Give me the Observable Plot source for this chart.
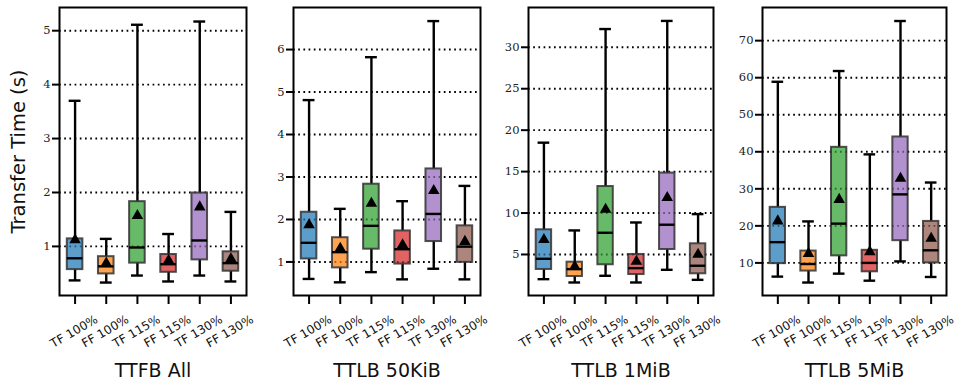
<!DOCTYPE html>
<html><head><meta charset="utf-8">
<script src="https://cdn.jsdelivr.net/npm/d3@7"></script>
<script src="https://cdn.jsdelivr.net/npm/@observablehq/plot@0.6"></script>
<style>
body{margin:0;background:#fff}
#c{position:relative;width:969px;height:388px;overflow:hidden}
#c svg{position:absolute;top:0}
</style>
</head><body><div id="c"></div>
<script>
const categories = ["TF 100%","FF 100%","TF 115%","FF 115%","TF 130%","FF 130%"];
const colors = ["#1f77b4","#ff7f0e","#2ca02c","#d62728","#9467bd","#8c564b"];
const panelTitles = ["TTFB All","TTLB 50KiB","TTLB 1MiB","TTLB 5MiB"];
const yLabel = "Transfer Time (s)";

// TTFB All
const ttfbAllLo   = [0.37,0.33,0.46,0.35,0.46,0.35];
const ttfbAllQ1   = [0.57,0.49,0.69,0.52,0.75,0.54];
const ttfbAllMed  = [0.78,0.63,0.98,0.67,1.11,0.69];
const ttfbAllQ3   = [1.14,0.81,1.83,0.85,1.99,0.90];
const ttfbAllHi   = [3.70,1.14,5.11,1.23,5.17,1.64];
const ttfbAllMean = [1.12,0.69,1.57,0.74,1.73,0.77];
const ttfbAllTicks = [1,2,3,4,5];

// TTLB 50KiB
const ttlb50Lo   = [0.60,0.52,0.76,0.59,0.84,0.59];
const ttlb50Q1   = [1.07,0.86,1.30,0.95,1.48,0.99];
const ttlb50Med  = [1.45,1.23,1.85,1.30,2.13,1.36];
const ttlb50Q3   = [2.17,1.57,2.83,1.73,3.19,1.85];
const ttlb50Hi   = [4.81,2.25,5.82,2.43,6.67,2.79];
const ttlb50Mean = [1.87,1.32,2.38,1.40,2.68,1.48];
const ttlb50Ticks = [1,2,3,4,5,6];

// TTLB 1MiB
const ttlb1mLo   = [2.02,1.62,2.43,1.62,3.15,1.94];
const ttlb1mQ1   = [3.19,2.34,3.76,2.58,5.60,2.67];
const ttlb1mMed  = [4.48,3.23,7.62,3.35,8.59,3.64];
const ttlb1mQ3   = [7.98,4.07,13.2,5.00,14.82,6.29];
const ttlb1mHi   = [18.49,7.90,32.2,8.86,33.18,9.87];
const ttlb1mMean = [6.78,3.55,10.43,4.15,11.85,5.00];
const ttlb1mTicks = [5,10,15,20,25,30];

// TTLB 5MiB
const ttlb5mLo   = [6.3,4.7,7.1,5.2,10.4,6.2];
const ttlb5mQ1   = [9.8,7.8,11.9,7.6,16.0,10.0];
const ttlb5mMed  = [15.6,9.7,20.6,10.0,28.5,13.4];
const ttlb5mQ3   = [25.0,13.2,41.2,13.4,44.0,21.2];
const ttlb5mHi   = [58.9,21.2,61.8,39.3,75.3,31.7];
const ttlb5mMean = [21.3,12.5,27.1,13.0,32.8,16.6];
const ttlb5mTicks = [10,20,30,40,50,60,70];

const panels = [
  {lo: ttfbAllLo, q1: ttfbAllQ1, med: ttfbAllMed, q3: ttfbAllQ3, hi: ttfbAllHi, mean: ttfbAllMean, ticks: ttfbAllTicks, domain:[0.09,5.43], left:59, right:246},
  {lo: ttlb50Lo, q1: ttlb50Q1, med: ttlb50Med, q3: ttlb50Q3, hi: ttlb50Hi, mean: ttlb50Mean, ticks: ttlb50Ticks, domain:[0.21,6.99], left:293, right:480},
  {lo: ttlb1mLo, q1: ttlb1mQ1, med: ttlb1mMed, q3: ttlb1mQ3, hi: ttlb1mHi, mean: ttlb1mMean, ticks: ttlb1mTicks, domain:[0.05,34.8], left:528, right:713},
  {lo: ttlb5mLo, q1: ttlb5mQ1, med: ttlb5mMed, q3: ttlb5mQ3, hi: ttlb5mHi, mean: ttlb5mMean, ticks: ttlb5mTicks, domain:[1.2,78.95], left:762, right:946}
];

const container = document.getElementById("c");
const ML = 59, MR = 14, MT = 7, MB = 93;
const sans = "DejaVu Sans";
const serif = "DejaVu Serif";

panels.forEach((p, k) => {
  const rows = categories.map((c, i) => ({
    x: i + 1, c, color: colors[i],
    lo: p.lo[i], q1: p.q1[i], med: p.med[i], q3: p.q3[i], hi: p.hi[i], mean: p.mean[i]
  }));
  const hw = 0.25, cw = 0.19;
  const marks = [
    Plot.gridY(p.ticks, {stroke: "black", strokeOpacity: 1, strokeWidth: 1.9, strokeDasharray: "1.7,3.5"}),
    Plot.ruleX(rows, {x: "x", y1: "lo", y2: "q1", stroke: "black", strokeWidth: 2.4}),
    Plot.ruleX(rows, {x: "x", y1: "q3", y2: "hi", stroke: "black", strokeWidth: 2.4}),
    Plot.ruleY(rows, {y: "lo", x1: d => d.x - cw, x2: d => d.x + cw, stroke: "black", strokeWidth: 2.4}),
    Plot.ruleY(rows, {y: "hi", x1: d => d.x - cw, x2: d => d.x + cw, stroke: "black", strokeWidth: 2.4}),
    Plot.rect(rows, {x1: d => d.x - hw, x2: d => d.x + hw, y1: "q1", y2: "q3", fill: "color", fillOpacity: 0.72, stroke: "#333", strokeOpacity: 0.85, strokeWidth: 2}),
    Plot.ruleY(rows, {y: "med", x1: d => d.x - hw, x2: d => d.x + hw, stroke: "black", strokeWidth: 2.4}),
    Plot.dot(rows, {x: "x", y: "mean", symbol: "triangle", r: 4.3, fill: "black", stroke: "none"}),
    Plot.frame({stroke: "black", strokeWidth: 2}),
    Plot.axisY(p.ticks, {tickSize: 7, tickPadding: 2, strokeWidth: 2, tickFormat: d => String(d), fontFamily: serif, fontSize: 11.5, fill: "#222", label: null}),
    Plot.axisX(rows.map(d => d.x), {tickSize: 9, strokeWidth: 2, tickFormat: () => "", label: null}),
    Plot.text(rows, {x: "x", text: "c", frameAnchor: "bottom", dy: 36, dx: -1, rotate: -30, textAnchor: "middle", lineAnchor: "middle", fontFamily: sans, fontSize: 12, fill: "#111"}),
    Plot.text([panelTitles[k]], {frameAnchor: "bottom", dy: 75, lineAnchor: "middle", textAnchor: "middle", fontFamily: sans, fontSize: 19, fill: "#111"})
  ];
  if (k === 0) {
    marks.push(Plot.text([yLabel], {frameAnchor: "left", dx: -41, rotate: -90, textAnchor: "middle", lineAnchor: "middle", fontFamily: sans, fontSize: 19.5, fill: "#111"}));
  }
  const w = (p.right - p.left) + ML + MR;
  const svg = Plot.plot({
    width: w, height: 388,
    marginLeft: ML, marginRight: MR, marginTop: MT, marginBottom: MB,
    style: {background: "transparent", overflow: "visible", fontFamily: sans},
    x: {type: "linear", domain: [0.5, 6.5]},
    y: {type: "linear", domain: p.domain},
    color: {type: "identity"},
    marks
  });
  svg.style.left = (p.left - ML) + "px";
  svg.style.maxWidth = "none";
  container.appendChild(svg);
});
</script>
</body></html>
